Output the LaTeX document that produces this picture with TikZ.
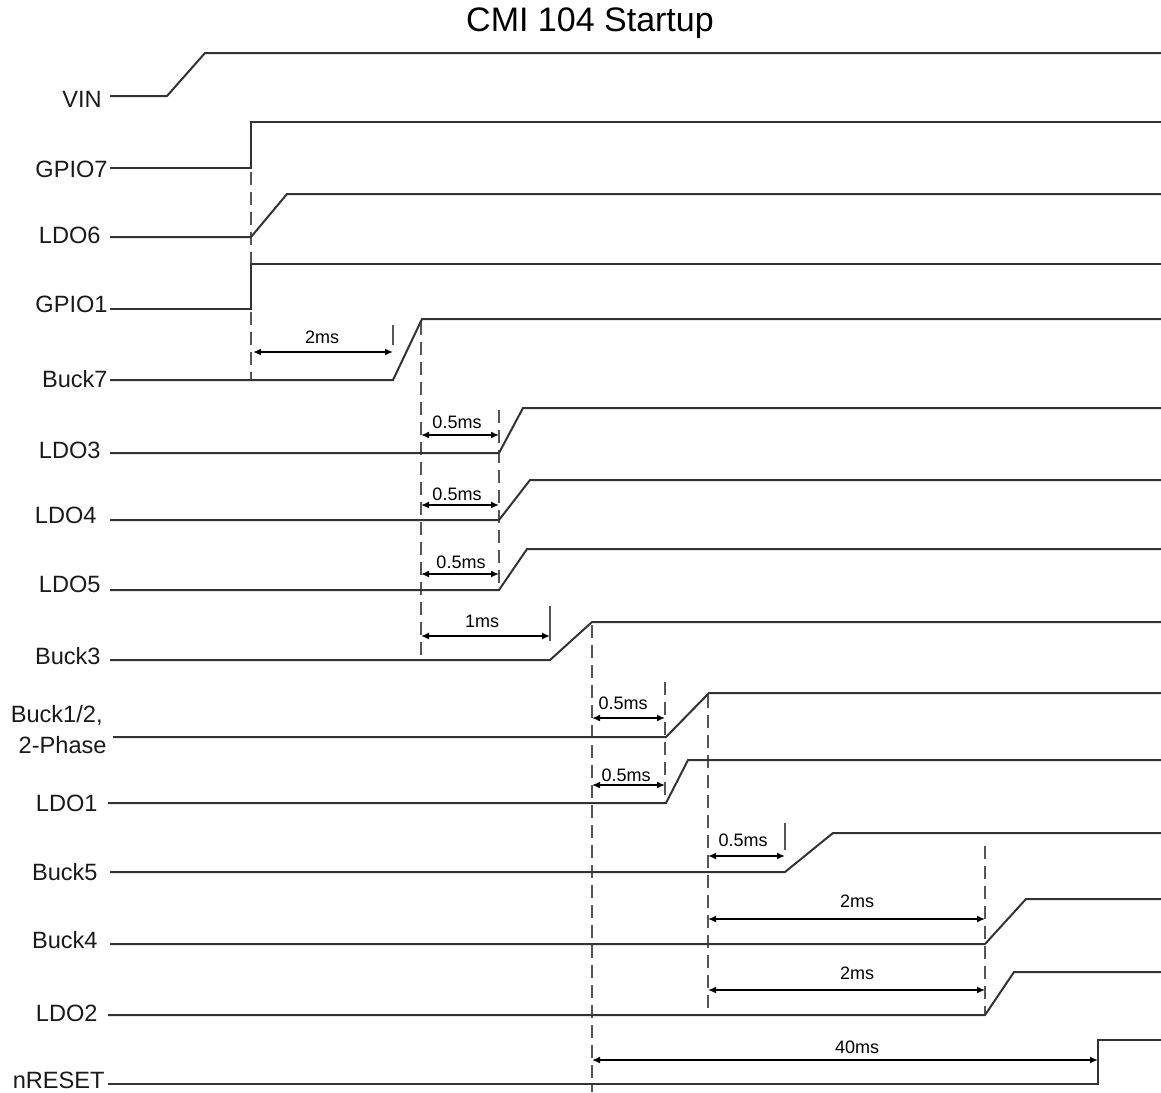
\documentclass[tikz,border=0pt]{standalone}
\usepackage{fontspec}
\setmainfont{Liberation Sans}
\usetikzlibrary{arrows.meta}
\definecolor{sigc}{HTML}{333333}
\definecolor{dshc}{HTML}{555555}
\definecolor{txtc}{HTML}{1A1A1A}
\newcommand\measure[7]{%
  \coordinate (#1a) at (#2,#4);
  \coordinate (#1b) at (#3,#4);
  \draw[meas] (#1a) -- (#1b);
  \node[mtxt] (#1t) at (#6,#7) {#5};}
\begin{document}
\begin{tikzpicture}[x=0.5pt,y=-0.5pt,
  sig/.style={draw=sigc, line width=1pt, line join=miter},
  guide/.style={draw=dshc, line width=0.9pt, dash pattern=on 6.5pt off 3.5pt},
  tick/.style={draw=dshc, line width=0.9pt},
  meas/.style={draw=black, line width=0.9pt, {Latex[length=4pt,width=3.5pt]}-{Latex[length=4pt,width=3.5pt]}},
  lbl/.style={anchor=base east, inner sep=0pt, font=\fontsize{11.8}{14}\selectfont, text=txtc},
  mtxt/.style={inner sep=0pt, font=\fontsize{9}{10}\selectfont, text=black}]
\path[use as bounding box] (0,0) rectangle (1161,1092);

% title
\node[anchor=base, inner sep=0pt, font=\fontsize{17}{20}\selectfont] (title) at (590,32) {CMI 104 Startup};

% labels
\node[lbl] (lVIN)   at (102,107.5)  {VIN};
\node[lbl] (lGPIO7) at (108,177)    {GPIO7};
\node[lbl] (lLDO6)  at (101,243.5)  {LDO6};
\node[lbl] (lGPIO1) at (108,312)    {GPIO1};
\node[lbl] (lBuck7) at (108,387.5)  {Buck7};
\node[lbl] (lLDO3)  at (101,458)    {LDO3};
\node[lbl] (lLDO4)  at (97,523.5)   {LDO4};
\node[lbl] (lLDO5)  at (101,592.5)  {LDO5};
\node[lbl] (lBuck3) at (101,664.5)  {Buck3};
\node[lbl] (lBuckA) at (103,722.5)  {Buck1/2,};
\node[lbl] (lBuckB) at (107,753.5)  {2-Phase};
\node[lbl] (lLDO1)  at (98,811.5)   {LDO1};
\node[lbl] (lBuck5) at (98,880.5)   {Buck5};
\node[lbl] (lBuck4) at (98,948.5)   {Buck4};
\node[lbl] (lLDO2)  at (98,1021.5)  {LDO2};
\node[lbl] (lnRST)  at (105,1088.5) {nRESET};

% dashed guides
\draw[guide] (251,172) -- (251,381);
\draw[guide] (421,322) -- (421,662);
\draw[guide] (499,410) -- (499,590);
\draw[guide] (592,625) -- (592,1092);
\draw[guide] (665,682) -- (665,803);
\draw[guide] (708,695) -- (708,1015);
\draw[guide] (985,846) -- (985,1015);
\draw[tick] (393,325) -- (393,345);
\draw[tick] (550,606) -- (550,641);
\draw[tick] (785,823) -- (785,850);

% waveforms
\draw[sig] (110,96)   -- (167,96)   -- (205,53)   -- (1161,53);
\draw[sig] (110,168)  -- (251,168)  -- (251,122)  -- (1161,122);
\draw[sig] (110,237)  -- (251,237)  -- (287,194)  -- (1161,194);
\draw[sig] (110,309)  -- (251,309)  -- (251,264)  -- (1161,264);
\draw[sig] (110,380)  -- (393,380)  -- (422,319)  -- (1161,319);
\draw[sig] (110,453)  -- (499,453)  -- (523,408)  -- (1161,408);
\draw[sig] (110,520)  -- (499,520)  -- (530,480)  -- (1161,480);
\draw[sig] (110,590)  -- (499,590)  -- (527,549)  -- (1161,549);
\draw[sig] (110,660)  -- (550,660)  -- (592,622)  -- (1161,622);
\draw[sig] (113,737)  -- (666,737)  -- (709,693)  -- (1161,693);
\draw[sig] (108,803)  -- (666,803)  -- (688,760)  -- (1161,760);
\draw[sig] (110,872)  -- (785,872)  -- (833,833)  -- (1161,833);
\draw[sig] (110,944)  -- (985,944)  -- (1026,899) -- (1161,899);
\draw[sig] (108,1015) -- (985,1015) -- (1014,972) -- (1161,972);
\draw[sig] (108,1084) -- (1098,1084) -- (1098,1040) -- (1161,1040);

% measurements
\measure{mA}{253}{393}{352}{2ms}{322}{337}
\measure{mB}{421}{499}{435}{0.5ms}{457}{422}
\measure{mC}{421}{499}{505}{0.5ms}{457}{494}
\measure{mD}{421}{499}{574}{0.5ms}{461}{562}
\measure{mE}{421}{550}{636}{1ms}{482}{621}
\measure{mF}{592}{665}{718}{0.5ms}{623}{703}
\measure{mG}{592}{665}{785}{0.5ms}{626}{775}
\measure{mH}{708}{785}{856}{0.5ms}{743}{840}
\measure{mI}{708}{985}{919}{2ms}{857}{901}
\measure{mJ}{708}{985}{990}{2ms}{857}{973}
\measure{mK}{592}{1098}{1060}{40ms}{857}{1047}
\end{tikzpicture}
\end{document}
